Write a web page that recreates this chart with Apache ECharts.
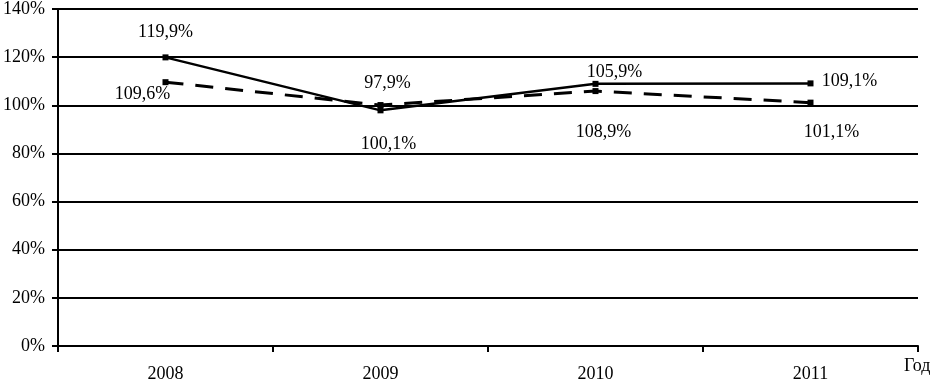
<!DOCTYPE html>
<html>
<head>
<meta charset="utf-8">
<script src="https://cdn.jsdelivr.net/npm/echarts@6/dist/echarts.min.js"></script>
<style>
html,body{margin:0;padding:0;background:#fff;}
#chart{width:938px;height:384px;}
</style>
</head>
<body>
<div id="chart"></div>
<script>
const categories = ['2008', '2009', '2010', '2011'];
const solidValues = [119.9, 97.9, 108.9, 109.1];
const dashedValues = [109.6, 100.1, 105.9, 101.1];
const yTicks = [0, 20, 40, 60, 80, 100, 120, 140];
const axisName = 'Год';

// label placement offsets (pixels) relative to each point
const solidLabelOffsets = [[0, -25], [7, -27], [8, 48], [39, -2]];
const dashedLabelOffsets = [[-23, 12], [8, 39], [19, -19], [21, 30]];

const FONT = '"Liberation Serif", "Times New Roman", serif';
const FS = 18;
const fmt = v => v.toFixed(1).replace('.', ',') + '%';

function buildData(values, offsets) {
  return values.map((v, i) => ({
    value: v,
    label: { offset: offsets[i] }
  }));
}

const chart = echarts.init(document.getElementById('chart'), null, { renderer: 'canvas' });
chart.setOption({
  backgroundColor: '#ffffff',
  animation: false,
  grid: { left: 56, right: 20, top: 4, bottom: 38, containLabel: false },
  xAxis: {
    type: 'category',
    data: categories,
    boundaryGap: true,
    axisLine: { lineStyle: { color: '#000', width: 2 } },
    axisTick: { show: true, length: 6, alignWithLabel: false, lineStyle: { color: '#000', width: 2 } },
    axisLabel: { color: '#000', fontFamily: FONT, fontSize: FS, margin: 19 },
    splitLine: { show: false }
  },
  yAxis: {
    type: 'value',
    min: yTicks[0],
    max: yTicks[yTicks.length - 1],
    interval: yTicks[1] - yTicks[0],
    axisLine: { show: true, lineStyle: { color: '#000', width: 2 } },
    axisTick: { show: true, length: 6, lineStyle: { color: '#000', width: 2 } },
    axisLabel: { color: '#000', fontFamily: FONT, fontSize: FS, margin: 13, formatter: v => v + '%' },
    splitLine: { show: true, lineStyle: { color: '#000', width: 2 } }
  },
  graphic: [{
    type: 'text',
    left: 904,
    top: 357,
    style: { text: axisName, fill: '#000', font: FS + 'px ' + FONT }
  }],
  series: [
    {
      type: 'line',
      data: buildData(solidValues, solidLabelOffsets),
      symbol: 'rect',
      symbolSize: 6,
      itemStyle: { color: '#000' },
      lineStyle: { color: '#000', width: 2.5, type: 'solid' },
      label: {
        show: true, position: 'inside', color: '#000',
        fontFamily: FONT, fontSize: FS,
        formatter: p => fmt(p.value)
      },
      z: 3
    },
    {
      type: 'line',
      data: buildData(dashedValues, dashedLabelOffsets),
      symbol: 'rect',
      symbolSize: 6,
      itemStyle: { color: '#000' },
      lineStyle: { color: '#000', width: 3, type: [18, 12] },
      label: {
        show: true, position: 'inside', color: '#000',
        fontFamily: FONT, fontSize: FS,
        formatter: p => fmt(p.value)
      },
      z: 3
    }
  ]
});
</script>
</body>
</html>
